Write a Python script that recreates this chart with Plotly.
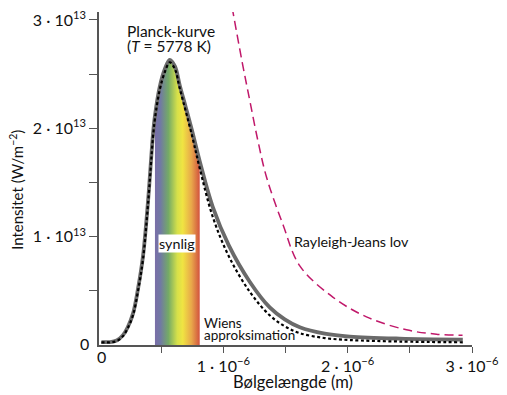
import plotly.graph_objects as go

# ---- data (wavelength in micrometres, intensity in 1e13 units) ----
planck_wavelength_um = [0.019, 0.086, 0.142, 0.193, 0.231, 0.274, 0.314, 0.354, 0.394, 0.434,
                        0.45, 0.488, 0.529, 0.569, 0.611, 0.649, 0.697, 0.746, 0.81, 0.914,
                        1.043, 1.212, 1.373, 1.494, 1.615, 1.816, 2.017, 2.419, 2.926]
planck_e13 = [0.027, 0.027, 0.041, 0.091, 0.164, 0.292, 0.520, 0.821, 1.322, 1.942,
              2.115, 2.380, 2.544, 2.631, 2.571, 2.398, 2.197, 1.988, 1.696, 1.277,
              0.921, 0.584, 0.347, 0.237, 0.164, 0.105, 0.078, 0.059, 0.050]

wien_wavelength_um = [0.019, 0.086, 0.142, 0.193, 0.231, 0.274, 0.314, 0.354, 0.394, 0.434,
                      0.45, 0.488, 0.529, 0.569, 0.611, 0.649, 0.746, 0.81, 0.914,
                      1.043, 1.212, 1.373, 1.494, 1.615, 1.816, 2.017, 2.419, 2.926]
wien_e13 = [0.025, 0.025, 0.036, 0.082, 0.155, 0.278, 0.502, 0.793, 1.295, 1.915,
            2.088, 2.353, 2.517, 2.608, 2.544, 2.371, 1.942, 1.632, 1.186,
            0.821, 0.492, 0.274, 0.173, 0.109, 0.064, 0.046, 0.032, 0.025]

rj_wavelength_um = [1.07, 1.15, 1.212, 1.279, 1.347, 1.48, 1.615, 1.883, 2.151, 2.473, 2.714, 2.924]
rj_e13 = [3.12, 2.62, 2.26, 1.88, 1.55, 1.11, 0.73, 0.44, 0.26, 0.14, 0.10, 0.09]

visible_range_um = [0.45, 0.81]

x_tickvals_um = [0.5, 1.0, 1.5, 2.0, 2.5, 3.0]
x_ticktext = ["", "1 · 10<sup>−6</sup>", "", "2 · 10<sup>−6</sup>", "", "3 · 10<sup>−6</sup>"]
y_tickvals_e13 = [0.5, 1.0, 1.5, 2.0, 2.5, 3.0]
y_ticktext = ["", "1 · 10<sup>13</sup>", "", "2 · 10<sup>13</sup>", "", "3 · 10<sup>13</sup>"]

# ---- unit conversion ----
UM = 1e-6
E13 = 1e13
x_planck = [w * UM for w in planck_wavelength_um]
y_planck = [v * E13 for v in planck_e13]
x_wien = [w * UM for w in wien_wavelength_um]
y_wien = [v * E13 for v in wien_e13]
x_rj = [w * UM for w in rj_wavelength_um]
y_rj = [v * E13 for v in rj_e13]

band_idx = [i for i, w in enumerate(planck_wavelength_um)
            if visible_range_um[0] <= w <= visible_range_um[1]]
x_band = [x_planck[i] for i in band_idx]
y_band = [y_planck[i] for i in band_idx]

FONT = "Lato"
spectrum = [[0.0, "#7a6ea8"], [0.12, "#7179a4"], [0.3, "#74aa66"], [0.5, "#d6e04a"],
            [0.62, "#f0e442"], [0.82, "#e8a64a"], [1.0, "#d2523e"]]

fig = go.Figure()
fig.add_trace(go.Scatter(x=x_band, y=y_band, mode="lines", line=dict(width=0, shape="spline"),
                         fill="tozeroy", fillgradient=dict(type="horizontal", colorscale=spectrum),
                         hoverinfo="skip", showlegend=False))
fig.add_trace(go.Scatter(x=x_planck, y=y_planck, mode="lines",
                         line=dict(color="#6a6a6a", width=3.8, shape="spline"), showlegend=False))
fig.add_trace(go.Scatter(x=x_wien, y=y_wien, mode="lines",
                         line=dict(color="#000000", width=2.2, dash="3px,2.5px", shape="spline"),
                         showlegend=False))
fig.add_trace(go.Scatter(x=x_rj, y=y_rj, mode="lines",
                         line=dict(color="#c0186a", width=1.5, dash="9px,5px", shape="spline"),
                         showlegend=False))

# the page body has an 8px default margin, so the figure is offset by 8px
OFF = 8
W, H = 507 - OFF, 395 - OFF
L, R, T, B = 99 - OFF, 35, 0, 50
XMAX = 3.0
PX_PER_E13 = 109.67
YMAX = (H - T - B) / PX_PER_E13


def px_to_x(px):
    return (px - OFF - L) / (W - L - R) * XMAX * UM


def py_to_y(py):
    return (H - B - (py - OFF)) / (H - T - B) * YMAX * E13


def py_to_paper(py):
    return (H - B - (py - OFF)) / (H - T - B)


def px_to_paper(px):
    return (px - OFF - L) / (W - L - R)


big = dict(family=FONT, size=15.5, color="#111")
txt = dict(family=FONT, size=14.3, color="#111")
small = dict(family=FONT, size=13.5, color="#111")
ann = [
    dict(x=px_to_x(125), y=py_to_y(27), text="Planck-kurve", xanchor="left", yanchor="middle",
         showarrow=False, font=big),
    dict(x=px_to_x(125), y=py_to_y(42), text="(<i>T</i> = 5778 K)", xanchor="left", yanchor="middle",
         showarrow=False, font=big),
    dict(x=px_to_x(292), y=py_to_y(240), text="Rayleigh-Jeans lov", xanchor="left", yanchor="middle",
         showarrow=False, font=txt),
    dict(x=px_to_x(177), y=py_to_y(242), text="synlig", xanchor="center", yanchor="middle",
         showarrow=False, font=txt, bgcolor="white", borderpad=0),
    dict(x=px_to_x(202), y=py_to_y(323), text="Wiens", xanchor="left", yanchor="middle",
         showarrow=False, font=small),
    dict(x=px_to_x(202), y=py_to_y(335), text="approksimation", xanchor="left", yanchor="middle",
         showarrow=False, font=small),
    dict(xref="paper", yref="paper", x=px_to_paper(17), y=py_to_paper(188),
         text="Intensitet (W/m<sup>−2</sup>)", textangle=-90, showarrow=False,
         xanchor="center", yanchor="middle", font=dict(family=FONT, size=15, color="#111")),
    dict(xref="paper", yref="paper", x=px_to_paper(293), y=py_to_paper(382),
         text="Bølgelængde (m)", showarrow=False, xanchor="center", yanchor="middle",
         font=dict(family=FONT, size=16.5, color="#111")),
    dict(xref="paper", yref="paper", x=px_to_paper(101), y=py_to_paper(357), text="0",
         showarrow=False, xanchor="center", yanchor="middle",
         font=dict(family=FONT, size=16, color="#111")),
    dict(xref="paper", yref="paper", x=px_to_paper(91), y=py_to_paper(343), text="0",
         showarrow=False, xanchor="right", yanchor="middle",
         font=dict(family=FONT, size=16, color="#111")),
]

fig.update_layout(
    width=W, height=H, margin=dict(l=L, r=R, t=T, b=B),
    paper_bgcolor="white", plot_bgcolor="white",
    font=dict(family=FONT, size=16, color="#111"),
    showlegend=False, annotations=ann,
    xaxis=dict(range=[0, XMAX * UM], showgrid=False, zeroline=False, showline=True,
               linecolor="#555", linewidth=1.5, ticks="outside", ticklen=6, tickwidth=1.3,
               tickcolor="#555", tickvals=[v * UM for v in x_tickvals_um], ticktext=x_ticktext,
               ticklabeloverflow="allow",
               tickfont=dict(family=FONT, size=16, color="#111")),
    yaxis=dict(range=[0, YMAX * E13], showgrid=False, zeroline=False, showline=True,
               linecolor="#555", linewidth=1.5, ticks="outside", ticklen=8, tickwidth=1.3,
               tickcolor="#555", tickvals=[v * E13 for v in y_tickvals_e13], ticktext=y_ticktext,
               ticklabeloverflow="allow",
               tickfont=dict(family=FONT, size=16, color="#111")),
)

fig.write_html("out.html")
